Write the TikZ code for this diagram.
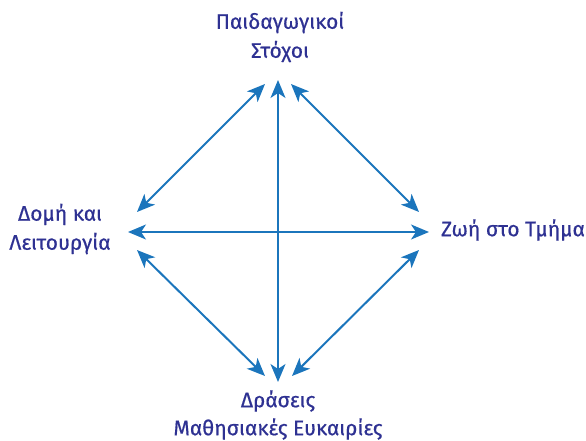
\documentclass[tikz,border=0pt]{standalone}
\usepackage{fontspec}
\setmainfont{Fira Sans}[FakeBold=0.6]
\usetikzlibrary{arrows.meta}
\definecolor{txtblue}{HTML}{2E3192}
\definecolor{arrblue}{HTML}{1B75BC}
\tikzset{
  lbl/.style={text=txtblue, font=\fontsize{21}{29}\selectfont, align=center, inner sep=0pt},
  biarrow/.style={draw=arrblue, line width=2pt, {Stealth[length=18pt,width=15pt,inset=5pt]}-{Stealth[length=18pt,width=15pt,inset=5pt]}}
}
\begin{document}
\begin{tikzpicture}[x=1pt,y=-1pt]
\useasboundingbox (0,0) rectangle (586,441);
\node[lbl] (T) at (280,37) {Παιδαγωγικοί\\Στόχοι};
\node[lbl, font=\fontsize{21}{28}\selectfont] (B) at (278,415) {Δράσεις\\Μαθησιακές Ευκαιρίες};
\node[lbl] (L) at (60,229) {Δομή και\\Λειτουργία};
\node[lbl] (R) at (513,230) {Ζωή στο Τμήμα};
\coordinate (vt) at (278,80);
\coordinate (vb) at (278,382);
\coordinate (hl) at (128,232);
\coordinate (hr) at (429,232);
\coordinate (tl1) at (265,84);
\coordinate (tl2) at (137,212);
\coordinate (tr1) at (291,84);
\coordinate (tr2) at (419,212);
\coordinate (bl1) at (137,250);
\coordinate (bl2) at (265,376);
\coordinate (br1) at (419,250);
\coordinate (br2) at (292,376);
\draw[biarrow] (vt) -- (vb);
\draw[biarrow] (hl) -- (hr);
\draw[biarrow] (tl1) -- (tl2);
\draw[biarrow] (tr1) -- (tr2);
\draw[biarrow] (bl1) -- (bl2);
\draw[biarrow] (br1) -- (br2);
\end{tikzpicture}
\end{document}
